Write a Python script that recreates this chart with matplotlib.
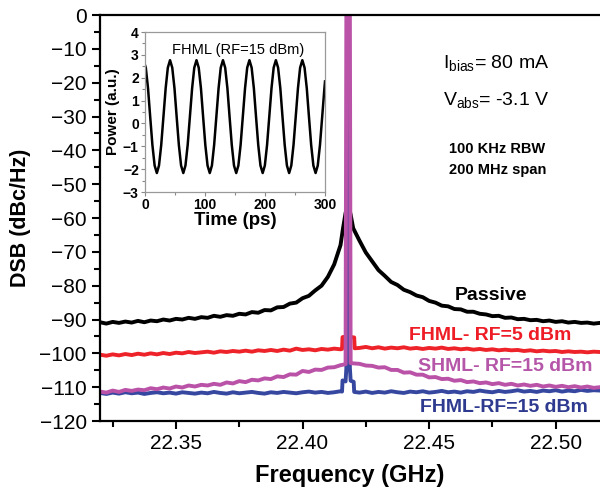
import numpy as np
import matplotlib
matplotlib.use("Agg")
import matplotlib.pyplot as plt
from matplotlib.ticker import MultipleLocator

plt.rcParams["font.family"] = ["Liberation Sans", "DejaVu Sans"]
plt.rcParams["mathtext.fontset"] = "custom"
plt.rcParams["mathtext.rm"] = "Liberation Sans"

# sweep points (GHz), left / right of the carrier
freq_left = [22.3200, 22.3225, 22.3250, 22.3275, 22.3300, 22.3325, 22.3350, 22.3375, 22.3400, 22.3425,
             22.3450, 22.3475, 22.3500, 22.3525, 22.3550, 22.3575, 22.3600, 22.3625, 22.3650, 22.3675,
             22.3700, 22.3725, 22.3750, 22.3775, 22.3800, 22.3825, 22.3850, 22.3875, 22.3900, 22.3925,
             22.3950, 22.3975, 22.4000, 22.4025, 22.4050, 22.4075, 22.4100, 22.4125, 22.4150]
freq_right = [22.4225, 22.4250, 22.4275, 22.4300, 22.4325, 22.4350, 22.4375, 22.4400, 22.4425, 22.4450,
              22.4475, 22.4500, 22.4525, 22.4550, 22.4575, 22.4600, 22.4625, 22.4650, 22.4675, 22.4700,
              22.4725, 22.4750, 22.4775, 22.4800, 22.4825, 22.4850, 22.4875, 22.4900, 22.4925, 22.4950,
              22.4975, 22.5000, 22.5025, 22.5050, 22.5075, 22.5100, 22.5125, 22.5150, 22.5175]

# Passive
passive_left = [-90.8, -91.2, -90.7, -91.0, -90.6, -90.9, -90.4, -90.8, -90.3, -90.5,
                -90.0, -90.3, -89.8, -90.0, -89.5, -89.8, -89.3, -89.5, -88.9, -89.2,
                -88.7, -88.9, -88.3, -88.5, -87.8, -88.0, -87.2, -87.3, -86.4, -86.3,
                -85.3, -85.0, -83.7, -83.0, -81.4, -80.0, -77.4, -73.7, -68.0]
passive_pk_f = [22.4160, 22.4170, 22.4180, 22.4190, 22.4200]
passive_pk = [-63.0, -58.5, -55.8, -59.0, -63.0]
passive_right = [-66.7, -70.2, -72.8, -75.4, -77.1, -78.9, -79.8, -81.2, -81.9, -82.9,
                 -83.4, -84.5, -85.0, -85.9, -86.1, -86.9, -87.0, -87.7, -87.7, -88.3,
                 -88.5, -89.0, -88.9, -89.5, -89.4, -89.9, -89.8, -90.2, -90.1, -90.5,
                 -90.3, -90.7, -90.5, -90.9, -90.7, -91.0, -90.9, -91.2, -91.0]

# FHML RF=5 dBm
fh5_left = [-100.4, -100.7, -100.3, -100.6, -100.2, -100.5, -100.1, -100.4, -100.0, -100.3,
            -99.9, -100.2, -99.8, -100.0, -99.6, -99.9, -99.7, -99.5, -99.8, -99.4,
            -99.6, -99.3, -99.5, -99.2, -99.5, -99.1, -99.3, -99.0, -99.3, -98.9,
            -99.2, -98.6, -99.0, -98.8, -99.1, -98.7, -98.9, -98.6, -98.8]
fh5_pk_f = [22.4156, 22.4158, 22.4178, 22.4179, 22.4181, 22.4182, 22.4204, 22.4206]
fh5_pk = [-98.7, -95.2, -95.0, 0.0, 0.0, -95.1, -95.3, -98.5]
fh5_right = [-98.4, -98.1, -98.5, -98.2, -98.6, -98.3, -98.5, -98.2, -98.6, -98.4,
             -98.7, -98.4, -98.6, -98.3, -98.7, -98.5, -98.8, -98.6, -98.9, -98.7,
             -99.0, -98.8, -99.1, -98.9, -99.1, -99.0, -99.3, -99.1, -99.4, -99.2,
             -99.4, -99.3, -99.6, -99.4, -99.6, -99.5, -99.7, -99.5, -99.6]

# FHML RF=15 dBm
fh15_left = [-111.7, -112.0, -111.6, -111.9, -111.5, -111.8, -111.6, -112.0, -111.7, -111.5,
             -111.8, -111.6, -111.9, -111.5, -111.7, -111.9, -111.6, -111.8, -111.4, -111.7,
             -111.9, -111.5, -111.8, -111.6, -111.4, -111.7, -111.9, -111.5, -111.7, -111.4,
             -111.6, -111.8, -111.5, -111.3, -111.6, -111.4, -111.7, -111.5, -111.2]
fh15_pk_f = [22.4156, 22.4158, 22.4170, 22.4173, 22.4179, 22.4181, 22.4187, 22.4190, 22.4202, 22.4204]
fh15_pk = [-111.3, -108.0, -108.3, -104.5, 0.0, 0.0, -104.3, -108.1, -108.4, -111.4]
fh15_right = [-111.6, -111.3, -111.7, -111.4, -111.6, -111.2, -111.5, -111.7, -111.3, -111.5,
              -111.2, -111.6, -111.4, -111.1, -111.5, -111.3, -111.6, -111.2, -111.4, -111.0,
              -111.3, -111.5, -111.1, -111.4, -111.2, -110.9, -111.3, -111.1, -111.4, -111.0,
              -111.2, -110.9, -111.3, -111.0, -111.2, -110.8, -111.1, -110.9, -111.0]

# SHML RF=15 dBm
sh15_left = [-111.3, -111.6, -111.0, -111.4, -110.8, -111.1, -110.7, -110.9, -110.3, -110.6,
             -110.1, -110.4, -109.8, -110.1, -109.5, -109.8, -109.3, -109.5, -109.0, -109.3,
             -108.6, -108.9, -108.2, -108.5, -107.8, -108.0, -107.4, -107.6, -106.8, -107.0,
             -106.2, -106.3, -105.2, -105.5, -104.8, -104.9, -104.2, -104.1, -103.5]
sh15_pk_f = [22.4170, 22.4173, 22.4180, 22.4187, 22.4190]
sh15_pk = [-103.2, 0.0, 0.0, 0.0, -102.9]
sh15_right = [-103.1, -103.6, -103.7, -104.2, -104.1, -104.9, -104.9, -105.7, -105.6, -106.3,
              -106.3, -107.1, -107.0, -107.6, -107.5, -108.1, -107.9, -108.5, -108.3, -108.8,
              -108.6, -109.1, -108.8, -109.3, -109.0, -109.5, -109.2, -109.6, -109.3, -109.8,
              -109.5, -109.9, -109.6, -110.0, -109.7, -110.1, -109.8, -110.2, -110.0]

# inset: FHML pulse train
time_ps = [0.0, 1.3, 5.0, 8.6, 12.3, 16.0, 19.7, 23.3, 27.0, 30.7, 34.4, 38.0, 41.7,
           45.4, 49.1, 52.7, 56.4, 60.1, 63.8, 67.4, 71.1, 74.8, 78.5, 82.1, 85.8,
           89.5, 93.2, 96.8, 100.5, 104.2, 107.9, 111.5, 115.2, 118.9, 122.6, 126.2, 129.9,
           133.6, 137.3, 140.9, 144.6, 148.3, 152.0, 155.6, 159.3, 163.0, 166.7, 170.3, 174.0,
           177.7, 181.4, 185.0, 188.7, 192.4, 196.1, 199.7, 203.4, 207.1, 210.8, 214.4, 218.1,
           221.8, 225.5, 229.1, 232.8, 236.5, 240.2, 243.8, 247.5, 251.2, 254.9, 258.5, 262.2,
           265.9, 269.6, 273.2, 276.9, 280.6, 284.3, 287.9, 291.6, 295.3, 299.0, 300.0]
power_au = [2.55, 2.44, 1.54, 0.30, -0.94, -1.84, -2.17, -1.84, -0.94, 0.30, 1.54, 2.44, 2.77,
            2.44, 1.54, 0.30, -0.94, -1.84, -2.17, -1.84, -0.94, 0.30, 1.54, 2.44, 2.77,
            2.44, 1.54, 0.30, -0.94, -1.84, -2.17, -1.84, -0.94, 0.30, 1.54, 2.44, 2.77,
            2.44, 1.54, 0.30, -0.94, -1.84, -2.17, -1.84, -0.94, 0.30, 1.54, 2.44, 2.77,
            2.44, 1.54, 0.30, -0.94, -1.84, -2.17, -1.84, -0.94, 0.30, 1.54, 2.44, 2.77,
            2.44, 1.54, 0.30, -0.94, -1.84, -2.17, -1.84, -0.94, 0.30, 1.54, 2.44, 2.77,
            2.44, 1.54, 0.30, -0.94, -1.84, -2.17, -1.84, -0.94, 0.30, 1.54, 1.84]

traces = [
    (passive_left, passive_pk_f, passive_pk, passive_right, "#000000"),
    (fh5_left, fh5_pk_f, fh5_pk, fh5_right, "#ee2229"),
    (fh15_left, fh15_pk_f, fh15_pk, fh15_right, "#3647a0"),
    (sh15_left, sh15_pk_f, sh15_pk, sh15_right, "#ba52a8"),
]

fig = plt.figure(figsize=(6.0, 4.93), dpi=100)
ax = fig.add_axes([0.1667, 0.146, 0.8333, 0.8235])
for left, pk_f, pk, right, col in traces:
    f = list(freq_left) + pk_f + list(freq_right)
    y = left + pk + right
    ax.plot(f, y, color=col, lw=2.8, solid_joinstyle="round")

ax.set_xlim(22.32, 22.5175)
ax.set_ylim(-120, 0)
ax.xaxis.set_major_locator(MultipleLocator(0.05))
ax.xaxis.set_minor_locator(MultipleLocator(0.025))
ax.yaxis.set_major_locator(MultipleLocator(10))
ax.yaxis.set_minor_locator(MultipleLocator(5))
ax.xaxis.set_major_formatter(plt.FuncFormatter(lambda v, p: f"{v:.2f}"))
ax.tick_params(which="major", direction="out", length=6, width=1.5, labelsize=15)
ax.tick_params(which="minor", direction="out", length=4, width=1.5)
ax.spines["right"].set_visible(False)
for s in ["left", "bottom", "top"]:
    ax.spines[s].set_linewidth(1.6)
ax.set_xlabel("Frequency (GHz)", fontsize=17, fontweight="bold", labelpad=8)
ax.set_ylabel("DSB (dBc/Hz)", fontsize=15.5, fontweight="bold", labelpad=6)

ax.text(22.4555, -15.7, r"$\mathregular{I_{bias}}$= 80 mA", fontsize=14, va="baseline")
ax.text(22.4555, -26.6, r"$\mathregular{V_{abs}}$= -3.1 V", fontsize=14, va="baseline")
ax.text(22.477, -40.8, "100 KHz RBW", fontsize=10.5, fontweight="bold", ha="center", va="baseline")
ax.text(22.477, -47.0, "200 MHz span", fontsize=10.5, fontweight="bold", ha="center", va="baseline")

ax.text(22.4744, -82.8, "Passive", fontsize=14, fontweight="bold", ha="center", va="center", color="#000000")
ax.text(22.4740, -94.6, "FHML- RF=5 dBm", fontsize=14, fontweight="bold", ha="center", va="center", color="#ee1c25")
ax.text(22.4800, -103.8, "SHML- RF=15 dBm", fontsize=14, fontweight="bold", ha="center", va="center", color="#b556a8")
ax.text(22.4795, -116.0, "FHML-RF=15 dBm", fontsize=14, fontweight="bold", ha="center", va="center", color="#2e3a8f")

# inset
ins = fig.add_axes([0.2417, 0.6105, 0.3, 0.3245])
ins.plot(time_ps, power_au, color="black", lw=1.8)
ins.set_xlim(0, 300)
ins.set_ylim(-3, 4)
ins.xaxis.set_major_locator(MultipleLocator(100))
ins.xaxis.set_minor_locator(MultipleLocator(50))
ins.yaxis.set_major_locator(MultipleLocator(1))
ins.yaxis.set_minor_locator(MultipleLocator(0.5))
ins.tick_params(which="major", direction="out", length=3, width=0.8, labelsize=10, pad=1.5, color="#888888")
ins.tick_params(which="minor", direction="out", length=2, width=0.8, color="#888888")
for lab in ins.get_xticklabels() + ins.get_yticklabels():
    lab.set_fontweight("bold")
for s in ins.spines.values():
    s.set_color("#999999")
    s.set_linewidth(0.9)
ins.set_xlabel("Time (ps)", fontsize=13.5, fontweight="bold", labelpad=0)
ins.set_ylabel("Power (a.u.)", fontsize=11, fontweight="bold", labelpad=2)
ins.text(0.52, 0.89, "FHML (RF=15 dBm)", transform=ins.transAxes, fontsize=10.5, ha="center", va="center")

fig.savefig("out.png", dpi=100)
